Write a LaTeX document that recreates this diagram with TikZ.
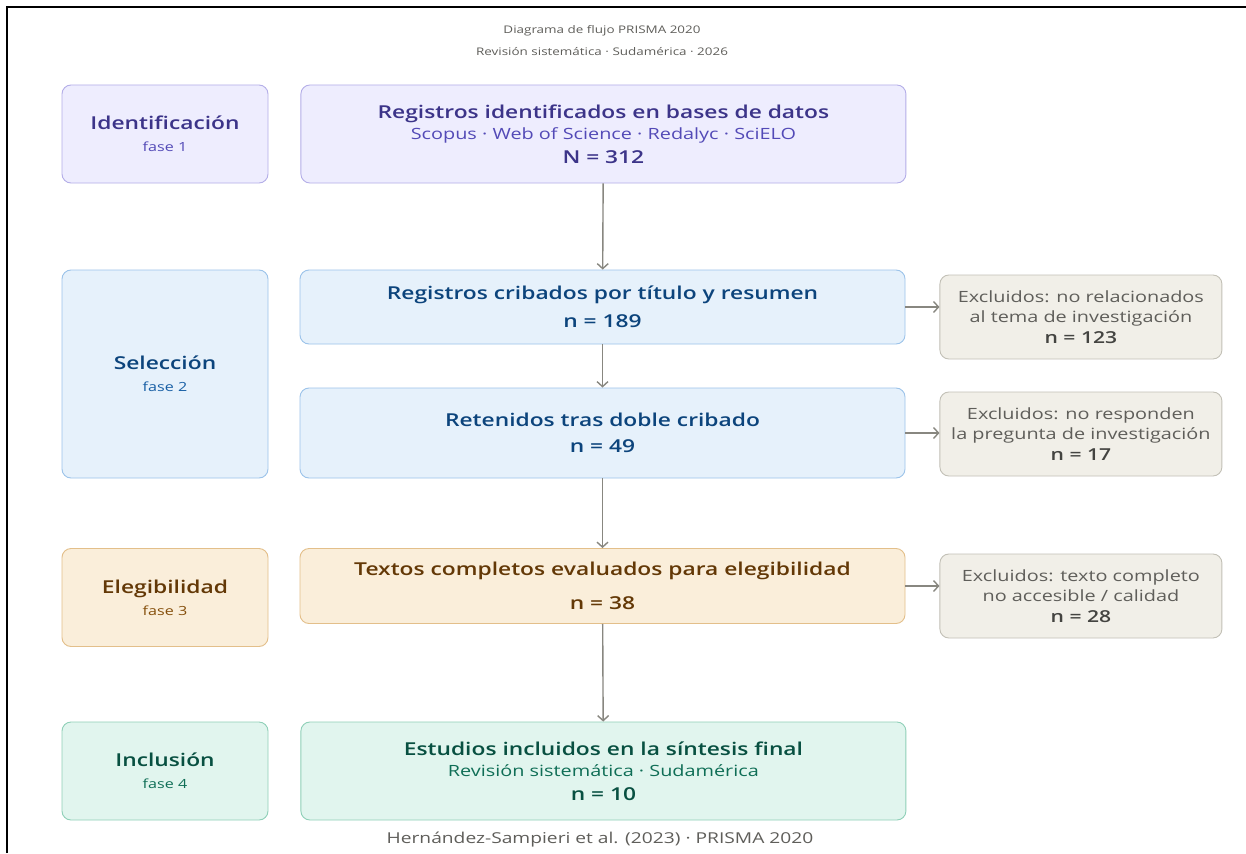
\documentclass[tikz,border=0pt]{standalone}
\usepackage{fontspec}
\setmainfont{Open Sans}[FakeStretch=1.28,BoldFont={Open Sans Semibold}]
\usetikzlibrary{positioning,arrows.meta}

\definecolor{purfill}{HTML}{EEEDFE}
\definecolor{purline}{HTML}{B4AEE8}
\definecolor{purtext}{HTML}{3C3489}
\definecolor{pursub}{HTML}{534AB7}
\definecolor{blufill}{HTML}{E6F1FB}
\definecolor{bluline}{HTML}{9CC3EA}
\definecolor{blutext}{HTML}{0C447C}
\definecolor{blusub}{HTML}{185FA5}
\definecolor{ambfill}{HTML}{FAEEDA}
\definecolor{ambline}{HTML}{E3BF8A}
\definecolor{ambtext}{HTML}{633806}
\definecolor{ambsub}{HTML}{854F0B}
\definecolor{teafill}{HTML}{E1F5EE}
\definecolor{tealine}{HTML}{8FD0B8}
\definecolor{teatext}{HTML}{085041}
\definecolor{teasub}{HTML}{0F6E56}
\definecolor{gryfill}{HTML}{F1EFE8}
\definecolor{gryline}{HTML}{C2C0B6}
\definecolor{grytext}{HTML}{444441}
\definecolor{grysub}{HTML}{5F5E5A}
\definecolor{flechagris}{HTML}{888780}

\newcommand{\tit}[1]{{\fontsize{17.8}{22}\selectfont\bfseries #1}}
\newcommand{\sub}[1]{{\fontsize{15.5}{20}\selectfont #1}}
\newcommand{\fase}[1]{{\fontsize{12.6}{20}\selectfont #1}}

\tikzset{
  caja/.style={rounded corners=9pt,line width=0.9pt,align=center,inner sep=0pt,font=\fontsize{17}{22}\selectfont},
  fasebox/.style={caja,minimum width=206pt,minimum height=98pt},
  mainbox/.style={caja,minimum width=605pt},
  exclbox/.style={caja,minimum width=282pt,minimum height=84pt,fill=gryfill,draw=gryline,text=grysub,font=\fontsize{15.5}{20}\selectfont},
  morado/.style={fill=purfill,draw=purline,text=purtext},
  azul/.style={fill=blufill,draw=bluline,text=blutext},
  ambar/.style={fill=ambfill,draw=ambline,text=ambtext},
  verde/.style={fill=teafill,draw=tealine,text=teatext},
  flecha/.style={draw=flechagris,line width=1.4pt,-{Straight Barb[length=5pt,width=11pt,line width=1.4pt]}}
}

\begin{document}
\begin{tikzpicture}[x=1pt,y=-1pt]
	\useasboundingbox[fill=white] (0,0) rectangle (1246,853);
	\draw[line width=2.5pt] (7,853) -- (7,7) -- (1246,7);
	
	\node[align=center,text=grysub,font=\fontsize{10.5}{22}\selectfont] (titulo) at (602,41) {Diagrama de flujo PRISMA 2020\\Revisión sistemática · Sudamérica · 2026};
	
	% fase 1
	\node[fasebox,morado] (fid) at (165,134) {\tit{Identificación}\\{\color{pursub}\fase{fase 1}}};
	\node[mainbox,morado,minimum height=98pt,right=32pt of fid] (reg) {\tit{Registros identificados en bases de datos}\\[-1pt]{\color{pursub}\sub{Scopus · Web of Science · Redalyc · SciELO}}\\[2pt]\tit{N = 312}};
	
	% fase 2
	\node[fasebox,azul,minimum height=208pt] (fsel) at (165,374) {\tit{Selección}\\{\color{blusub}\fase{fase 2}}};
	\node[mainbox,azul,minimum height=74pt] (crib) at (602.5,307) {\tit{Registros cribados por título y resumen}\\[6pt]\tit{n = 189}};
	\node[mainbox,azul,minimum height=90pt] (ret) at (602.5,433) {\tit{Retenidos tras doble cribado}\\[4pt]\tit{n = 49}};
	\node[exclbox,right=34pt of crib,yshift=-10pt] (exa) {Excluidos: no relacionados\\al tema de investigación\\[1pt]{\color{grytext}\fontsize{16.5}{20}\selectfont\bfseries n = 123}};
	\node[exclbox,right=34pt of ret,yshift=-1pt] (exb) {Excluidos: no responden\\la pregunta de investigación\\[1pt]{\color{grytext}\fontsize{16.5}{20}\selectfont\bfseries n = 17}};
	
	% fase 3
	\node[fasebox,ambar] (feleg) at (165,597.5) {\tit{Elegibilidad}\\{\color{ambsub}\fase{fase 3}}};
	\node[mainbox,ambar,minimum height=75pt] (txt) at (602.5,586) {\tit{Textos completos evaluados para elegibilidad}\\[12pt]\tit{n = 38}};
	\node[exclbox,right=34pt of txt,yshift=-10pt] (exc) {Excluidos: texto completo\\no accesible / calidad\\[1pt]{\color{grytext}\fontsize{16.5}{20}\selectfont\bfseries n = 28}};
	
	% fase 4
	\node[fasebox,verde] (finc) at (165,771) {\tit{Inclusión}\\{\color{teasub}\fase{fase 4}}};
	\node[mainbox,verde,minimum height=98pt,right=32pt of finc] (est) {\tit{Estudios incluidos en la síntesis final}\\[-1pt]{\color{teasub}\sub{Revisión sistemática · Sudamérica}}\\[2pt]\tit{n = 10}};
	
	\node[text=grysub,font=\fontsize{15}{16}\selectfont] (fuente) at (600,840) {Hernández-Sampieri et al. (2023) · PRISMA 2020};
	
	\draw[flecha] (reg) -- (crib);
	\draw[flecha] (crib) -- (ret);
	\draw[flecha] (ret) -- (txt);
	\draw[flecha] (txt) -- (est);
	\draw[flecha] (crib.east) -- (crib.east -| exa.west);
	\draw[flecha] (ret.east) -- (ret.east -| exb.west);
	\draw[flecha] (txt.east) -- (txt.east -| exc.west);
\end{tikzpicture}
\end{document}
